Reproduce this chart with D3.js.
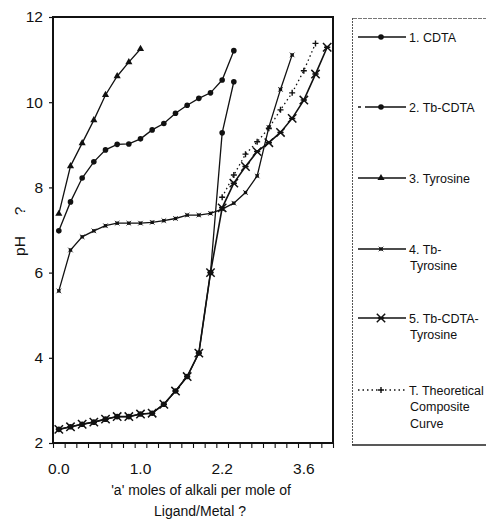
<!DOCTYPE html>
<html>
<head>
<meta charset="utf-8">
<script src="https://cdn.jsdelivr.net/npm/d3@7"></script>
<style>
  body { margin: 0; background: #fff; }
  text { font-family: "Liberation Sans", Arial, sans-serif; fill: #111; }
</style>
</head>
<body>
<div id="container"></div>
<script>
"use strict";

const width = 486;
const height = 519;
const plot = { left: 53, right: 333, top: 17, bottom: 443 };

// category slots along the x axis (Excel-style, points sit between ticks)
const slotCount = 24;
const xTickSlots = [0, 7, 14, 21];
const xTickLabels = ["0.0", "1.0", "2.2", "3.6"];
const yTicks = [2, 4, 6, 8, 10, 12];

// pH readings, one per slot, starting at the series' first slot
const cdta = [6.98, 7.66, 8.22, 8.6, 8.88, 9.01, 9.02, 9.14, 9.35, 9.5, 9.74, 9.93, 10.09, 10.22, 10.52, 11.21];
const tbCdta = [2.32, 2.38, 2.44, 2.49, 2.56, 2.62, 2.62, 2.68, 2.7, 2.91, 3.22, 3.56, 4.11, 6.0, 9.28, 10.48];
const tyrosine = [7.38, 8.5, 9.04, 9.58, 10.17, 10.61, 10.94, 11.25];
const tbTyrosine = [5.57, 6.53, 6.84, 6.98, 7.1, 7.16, 7.16, 7.16, 7.18, 7.22, 7.27, 7.35, 7.35, 7.39, 7.49, 7.63, 7.88, 8.27, 9.41, 10.3, 11.11];
const tbCdtaTyrosine = [2.32, 2.38, 2.44, 2.49, 2.56, 2.62, 2.62, 2.68, 2.7, 2.91, 3.22, 3.56, 4.11, 6.0, 7.52, 8.1, 8.49, 8.84, 9.05, 9.29, 9.62, 10.05, 10.66, 11.29];
const theoretical = [7.77, 8.29, 8.78, 9.07, 9.39, 9.82, 10.22, 10.74, 11.38];
const theoreticalStart = 14;

const legendLabels = [
  ["1. CDTA"],
  ["2. Tb-CDTA"],
  ["3. Tyrosine"],
  ["4. Tb-", "Tyrosine"],
  ["5. Tb-CDTA-", "Tyrosine"],
  ["T. Theoretical", "Composite", "Curve"],
];
const legendRows = [37, 107, 178, 249, 318, 390];

// X with a bar through it, as used for curve 5
const starX = {
  draw(ctx, size) {
    const r = Math.sqrt(size) / 2;
    ctx.moveTo(-r, -r);
    ctx.lineTo(r, r);
    ctx.moveTo(-r, r);
    ctx.lineTo(r, -r);
    ctx.moveTo(-r * 0.75, 0);
    ctx.lineTo(r * 0.75, 0);
  },
};

const plusMark = {
  draw(ctx, size) {
    const r = Math.sqrt(size) / 2;
    ctx.moveTo(-r, 0);
    ctx.lineTo(r, 0);
    ctx.moveTo(0, -r);
    ctx.lineTo(0, r);
  },
};

const series = [
  { values: cdta, start: 0, marker: "circle" },
  { values: tbCdta, start: 0, marker: "circle", legendDash: "3,4,80" },
  { values: tyrosine, start: 0, marker: "triangle" },
  { values: tbTyrosine, start: 0, marker: "square" },
  { values: tbCdtaTyrosine, start: 0, marker: "star", width: 1.6 },
  { values: theoretical, start: theoreticalStart, marker: "plus", dash: "1.5,3" },
];

const xScale = d3.scaleLinear().domain([0, slotCount]).range([plot.left, plot.right]);
const yScale = d3.scaleLinear().domain([2, 12]).range([plot.bottom, plot.top]);
const xSlot = (i) => xScale(i + 0.5);

const svg = d3
  .select("#container")
  .append("svg")
  .attr("width", width)
  .attr("height", height);

const drawMarker = (g, type, cx, cy) => {
  if (type === "circle") {
    g.append("circle").attr("cx", cx).attr("cy", cy).attr("r", 2.8).attr("fill", "#111");
  } else if (type === "triangle") {
    g.append("path")
      .attr("d", d3.symbol(d3.symbolTriangle, 22)())
      .attr("transform", `translate(${cx},${cy})`)
      .attr("fill", "#111");
  } else if (type === "square") {
    g.append("path")
      .attr("d", d3.symbol(d3.symbolSquare, 11)())
      .attr("transform", `translate(${cx},${cy})`)
      .attr("fill", "#111");
    g.append("path")
      .attr("d", d3.symbol(d3.symbolTimes, 16)())
      .attr("transform", `translate(${cx},${cy})`)
      .attr("stroke", "#111")
      .attr("stroke-width", 0.8)
      .attr("fill", "none");
  } else if (type === "star") {
    g.append("path")
      .attr("d", d3.symbol(starX, 70)())
      .attr("transform", `translate(${cx},${cy})`)
      .attr("stroke", "#111")
      .attr("stroke-width", 1.5)
      .attr("fill", "none");
    g.append("circle").attr("cx", cx).attr("cy", cy).attr("r", 1.6).attr("fill", "#111");
  } else if (type === "plus") {
    g.append("path")
      .attr("d", d3.symbol(plusMark, 36)())
      .attr("transform", `translate(${cx},${cy})`)
      .attr("stroke", "#111")
      .attr("stroke-width", 1.4)
      .attr("fill", "none");
  }
};

// axes
const yAxis = d3.axisLeft(yScale).tickValues(yTicks).tickSize(4).tickPadding(6).tickSizeOuter(0);
const xAxis = d3
  .axisBottom(xScale)
  .tickValues(d3.range(0, slotCount + 1))
  .tickSize(5)
  .tickSizeOuter(0)
  .tickFormat("");

const gy = svg.append("g").attr("transform", `translate(${plot.left},0)`).call(yAxis);
gy.select(".domain").remove();
gy.selectAll("line").attr("stroke", "#111").attr("stroke-width", 1.2);
gy.selectAll("text").style("font-size", "15.5px").attr("fill", "#111");

const gx = svg.append("g").attr("transform", `translate(0,${plot.bottom})`).call(xAxis);
gx.select(".domain").remove();
gx.selectAll("line").attr("stroke", "#111").attr("stroke-width", 1.1);

svg
  .selectAll(".xlabel")
  .data(xTickSlots)
  .enter()
  .append("text")
  .attr("class", "xlabel")
  .attr("x", (d) => xSlot(d))
  .attr("y", 474)
  .attr("text-anchor", "middle")
  .style("font-size", "15.5px")
  .text((d, i) => xTickLabels[i]);

// plot frame
svg
  .append("rect")
  .attr("x", plot.left)
  .attr("y", plot.top)
  .attr("width", plot.right - plot.left)
  .attr("height", plot.bottom - plot.top)
  .attr("fill", "none")
  .attr("stroke", "#111")
  .attr("stroke-width", 2);

// curves
const line = d3
  .line()
  .x((d) => xSlot(d.slot))
  .y((d) => yScale(d.ph));

series.forEach((s) => {
  const pts = s.values.map((v, i) => ({ slot: s.start + i, ph: v }));
  const g = svg.append("g");
  g.append("path")
    .datum(pts)
    .attr("d", line)
    .attr("fill", "none")
    .attr("stroke", "#111")
    .attr("stroke-width", s.width || 1.3)
    .attr("stroke-dasharray", s.dash || null);
  pts.forEach((p) => drawMarker(g, s.marker, xSlot(p.slot), yScale(p.ph)));
});

// axis titles
const yTitle = svg.append("g").attr("transform", "translate(20,233) rotate(-90)");
yTitle.append("text").attr("x", -13).attr("y", 5).attr("text-anchor", "middle").style("font-size", "15.5px").text("pH");
yTitle.append("text").attr("x", 22).attr("y", 5).attr("text-anchor", "middle").style("font-size", "15.5px").text("?");

svg
  .append("text")
  .attr("x", 201)
  .attr("y", 495)
  .attr("text-anchor", "middle")
  .style("font-size", "14px")
  .text("'a' moles of alkali per mole of");
svg
  .append("text")
  .attr("x", 200)
  .attr("y", 516)
  .attr("text-anchor", "middle")
  .style("font-size", "14px")
  .text("Ligand/Metal ?");

// legend box
const legend = svg.append("g");
legend.append("line").attr("x1", 353).attr("x2", width).attr("y1", 18.5).attr("y2", 18.5)
  .attr("stroke", "#777").attr("stroke-width", 1).attr("stroke-dasharray", "4,1");
legend.append("line").attr("x1", 352.5).attr("x2", 352.5).attr("y1", 18).attr("y2", 445)
  .attr("stroke", "#555").attr("stroke-width", 1).attr("stroke-dasharray", "2,1");
legend.append("line").attr("x1", 352).attr("x2", width).attr("y1", 445).attr("y2", 445)
  .attr("stroke", "#222").attr("stroke-width", 1.3);

series.forEach((s, i) => {
  const y = legendRows[i];
  legend.append("line")
    .attr("x1", 358).attr("x2", 406).attr("y1", y).attr("y2", y)
    .attr("stroke", "#111")
    .attr("stroke-width", s.width || 1.3)
    .attr("stroke-dasharray", s.dash || s.legendDash || null);
  drawMarker(legend, s.marker, 381, y);
  legendLabels[i].forEach((t, j) => {
    legend.append("text")
      .attr("x", j === 0 ? 409 : 410)
      .attr("y", y + 4.5 + j * 16.5)
      .style("font-size", "12.5px")
      .text(t);
  });
});
</script>
</body>
</html>
